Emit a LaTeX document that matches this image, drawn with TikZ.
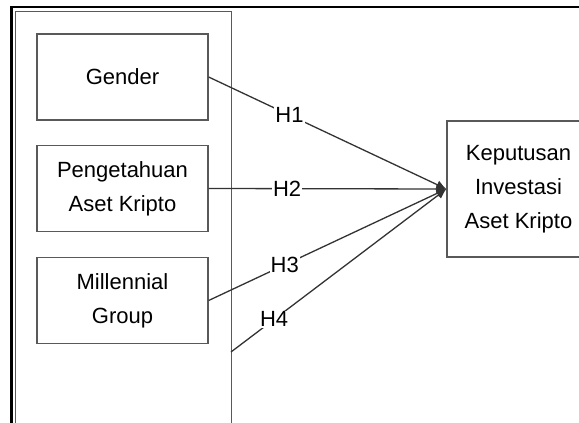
\documentclass[tikz,border=0pt]{standalone}
\usepackage{fontspec}
\setmainfont{Liberation Sans}
\usetikzlibrary{positioning,arrows.meta}
\tikzstyle{box}=[rectangle,draw=black!65,line width=1.3pt,align=center,font=\fontsize{22}{34}\selectfont]
\tikzstyle{link}=[draw=black!80,line width=1.3pt,-{Latex[length=10pt,width=9pt]}]
\tikzstyle{hyp}=[fill=white,inner sep=1pt,font=\fontsize{22}{26}\selectfont]

\begin{document}
\begin{tikzpicture}[x=1pt,y=-1pt]
  \useasboundingbox (0,0) rectangle (579,423);
  \clip (0,0) rectangle (579,423);
  \fill [white] (0,0) rectangle (579,423);

  \draw [line width=2.2pt] (11.5,440) -- (11.5,7) -- (590,7);

  \node [box, minimum width=216pt, minimum height=440pt, anchor=north west] at (15,11) (group) {};
  \node [box, minimum width=171pt, minimum height=86pt] at (122.5,77)    (gender)      {Gender};
  \node [box, minimum width=171pt, minimum height=86pt] at (122.5,188.5) (pengetahuan) {Pengetahuan\\Aset Kripto};
  \node [box, minimum width=171pt, minimum height=86pt] at (122.5,300.5) (millennial)  {Millennial\\Group};
  \node [box, minimum width=143pt, minimum height=136pt] at (518.5,189)  (keputusan)   {Keputusan\\Investasi\\Aset Kripto};

  \coordinate (groupside) at (231,352);

  \draw [link] (gender.east)      to node [hyp, pos=.34] {H1} (keputusan.west);
  \draw [link] (pengetahuan.east) to node [hyp, pos=.33] {H2} (keputusan.west);
  \draw [link] (millennial.east)  to node [hyp, pos=.32] {H3} (keputusan.west);
  \draw [link] (groupside)        to node [hyp, pos=.2]  {H4} (keputusan.west);
\end{tikzpicture}
\end{document}
